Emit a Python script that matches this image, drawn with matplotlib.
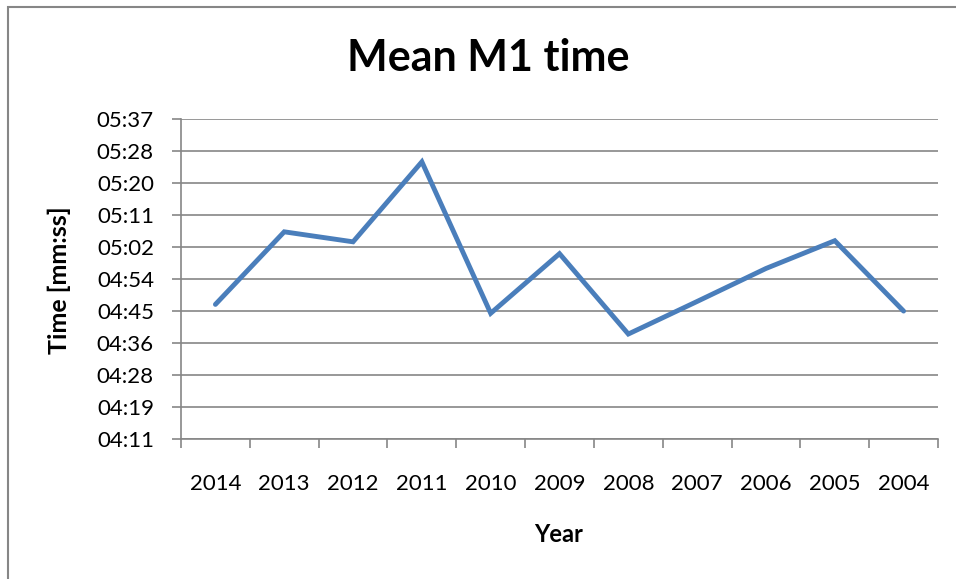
import matplotlib.pyplot as plt
from matplotlib.patches import Rectangle

# Mean M1 time per year, in seconds
years = ['2014', '2013', '2012', '2011', '2010', '2009',
         '2008', '2007', '2006', '2005', '2004']
mean_time = [286.9, 306.5, 303.8, 325.4, 284.5, 300.6,
             278.9, 287.7, 296.6, 304.1, 285.1]

# Excel style ticks: steps of 0.0001 day = 8.64 s
y_ticks = [0.0029 * 86400 + i * 8.64 for i in range(11)]

plt.rcParams['font.family'] = ['Lato', 'DejaVu Sans']

W, H = 956, 579
fig = plt.figure(figsize=(W / 100, H / 100), dpi=100)
ax = fig.add_axes([181 / W, 1 - 439 / H, 757 / W, 320 / H])

# outer chart border
fig.patches.append(Rectangle((8 / W, -0.1), 1.1, 1 - 7 / H + 0.1,
                             transform=fig.transFigure, fill=False,
                             edgecolor='#868686', linewidth=1.5))

x = list(range(len(years)))
ax.plot(x, mean_time, color='#4a7ebb', linewidth=3.5,
        solid_joinstyle='miter', solid_capstyle='round', zorder=3)

ax.set_xlim(-0.5, len(years) - 0.5)
ax.set_ylim(y_ticks[0], y_ticks[-1])
ax.set_yticks(y_ticks)
ax.set_yticklabels(['%02d:%02d' % (round(t) // 60, round(t) % 60) for t in y_ticks])
ax.set_xticks(x)
ax.set_xticklabels(years)
ax.set_xticks([i - 0.5 for i in range(len(years) + 1)], minor=True)

ax.grid(axis='y', color='#868686', linewidth=1.2)
ax.tick_params(axis='x', which='major', length=0, pad=25, labelsize=16)
ax.tick_params(axis='x', which='minor', length=6.5, color='#868686', width=1.2)
ax.tick_params(axis='y', length=6.5, color='#868686', width=1.2, labelsize=16, pad=13)

for side in ['top', 'right']:
    ax.spines[side].set_visible(False)
for side in ['left', 'bottom']:
    ax.spines[side].set_color('#868686')
    ax.spines[side].set_linewidth(1.2)

fig.text(488 / W, 1 - 58 / H, 'Mean M1 time', fontsize=31, fontweight='bold',
         ha='center', va='center')
fig.text(559 / W, 1 - 534 / H, 'Year', fontsize=17, fontweight='bold',
         ha='center', va='center')
fig.text(59 / W, 1 - 280 / H, 'Time [mm:ss]', fontsize=18, fontweight='bold',
         ha='center', va='center', rotation=90)

fig.savefig('out.png', dpi=100)
